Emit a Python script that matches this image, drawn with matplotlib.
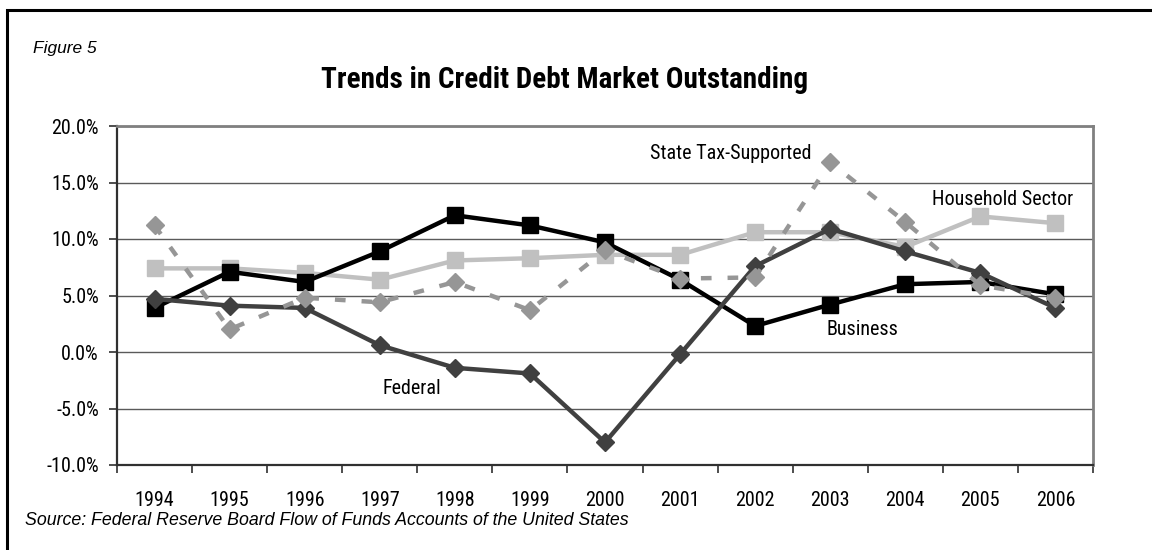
import matplotlib
matplotlib.use("Agg")
import matplotlib.pyplot as plt
from matplotlib import font_manager as fm
from matplotlib.patches import Rectangle
from matplotlib.ticker import FixedLocator, FuncFormatter

years = ["1994", "1995", "1996", "1997", "1998", "1999", "2000",
         "2001", "2002", "2003", "2004", "2005", "2006"]
business = [3.9, 7.1, 6.2, 8.9, 12.1, 11.2, 9.7, 6.4, 2.3, 4.2, 6.0, 6.2, 5.1]
household = [7.4, 7.4, 7.0, 6.4, 8.1, 8.3, 8.6, 8.6, 10.6, 10.6, 9.3, 12.0, 11.4]
federal = [4.7, 4.1, 3.9, 0.6, -1.4, -1.9, -8.0, -0.2, 7.6, 10.9, 8.9, 7.0, 3.9]
state_tax = [11.2, 2.0, 4.8, 4.4, 6.2, 3.7, 9.0, 6.5, 6.6, 16.8, 11.5, 5.9, 4.8]
y_ticks = [-10, -5, 0, 5, 10, 15, 20]


def pick_condensed():
    """Return (family, stretch) for a narrow sans face if one is installed."""
    fonts = fm.fontManager.ttflist
    names = {f.name for f in fonts}
    for cand in ("Liberation Sans Narrow", "Arial Narrow", "Roboto Condensed",
                 "Open Sans Condensed", "DejaVu Sans Condensed"):
        if cand in names:
            return cand, "normal"
    for f in fonts:
        st = f.stretch
        if isinstance(st, str) and "condensed" in st and "Mono" not in f.name \
                and "Serif" not in f.name and "CJK" not in f.name:
            return f.name, st
    for f in fonts:
        if ("Narrow" in f.name or "Condensed" in f.name) and "Mono" not in f.name:
            return f.name, "normal"
    return None, "normal"


cond_name, cond_stretch = pick_condensed()
if cond_name:
    narrow = [cond_name, "DejaVu Sans"]
    narrow_scale = 1.0
else:
    narrow = ["Liberation Sans", "DejaVu Sans"]
    narrow_scale = 0.86
plain = ["Liberation Sans", "DejaVu Sans"]


def nfont(size, **kw):
    return dict(family=narrow, fontsize=size * narrow_scale,
                fontstretch=cond_stretch, **kw)


fig = plt.figure(figsize=(11.52, 5.5), dpi=100)
W, H = 1152, 550

# outer frame of the figure panel
fig.patches.append(Rectangle((7 / W, -0.05), 1.2, 1 - 10 / H + 0.05,
                             transform=fig.transFigure, fill=False,
                             edgecolor="black", linewidth=2.2))

ax = fig.add_axes([117 / W, 1 - 465 / H, (1093 - 117) / W, (465 - 126) / H])
x = list(range(len(years)))

ax.plot(x, household, color="#c0c0c0", lw=3.2, marker="s", ms=11,
        mec="#c0c0c0", mfc="#c0c0c0", zorder=3)
ax.plot(x, business, color="black", lw=3.2, marker="s", ms=11,
        mec="black", mfc="black", zorder=4)
ax.plot(x, federal, color="#404040", lw=3.2, marker="D", ms=9,
        mec="#404040", mfc="#404040", zorder=5)
ax.plot(x, state_tax, color="#969696", lw=3.2, marker="D", ms=9,
        mec="#969696", mfc="#969696", dashes=(2.4, 3.6), zorder=6)

ax.set_xlim(-0.5, len(years) - 0.5)
ax.set_ylim(-10, 20)
ax.yaxis.set_major_locator(FixedLocator(y_ticks))
ax.yaxis.set_major_formatter(FuncFormatter(lambda v, p: f"{v:.1f}%"))
ax.grid(axis="y", color="#5a5a5a", lw=1.0, zorder=1)
ax.set_axisbelow(True)

ax.set_xticks(x)
ax.set_xticklabels(years)
ax.set_xticks([i - 0.5 for i in range(len(years) + 1)], minor=True)
ax.tick_params(axis="x", which="major", length=0, pad=19)
ax.tick_params(axis="x", which="minor", length=6, width=1.2, color="#303030")
ax.tick_params(axis="y", length=6, width=1.2, color="#303030", pad=7)
for lab in ax.get_xticklabels() + ax.get_yticklabels():
    lab.set_family(narrow)
    lab.set_fontsize(14.5 * narrow_scale)
    lab.set_fontstretch(cond_stretch)

for side in ("left", "bottom"):
    ax.spines[side].set_color("#303030")
    ax.spines[side].set_linewidth(1.6)
for side in ("top", "right"):
    ax.spines[side].set_color("#808080")
    ax.spines[side].set_linewidth(2.0)

# series labels
ax.text(3.43, -3.2, "Federal", ha="center", va="center", **nfont(14.5))
ax.text(7.67, 17.6, "State Tax-Supported", ha="center", va="center", **nfont(14.5))
ax.text(11.3, 13.5, "Household Sector", ha="center", va="center", **nfont(14.5))
ax.text(9.43, 1.95, "Business", ha="center", va="center", **nfont(14.5))

fig.text(565 / W, 1 - 88 / H, "Trends in Credit Debt Market Outstanding",
         ha="center", va="baseline", fontweight="bold", **nfont(21))
fig.text(33 / W, 1 - 53 / H, "Figure 5", family=plain, style="italic",
         fontsize=12.5, ha="left", va="baseline")
fig.text(25 / W, 1 - 525 / H,
         "Source: Federal Reserve Board Flow of Funds Accounts of the United States",
         family=plain, style="italic", fontsize=12.8, ha="left", va="baseline")

fig.savefig("out.png", dpi=100)
